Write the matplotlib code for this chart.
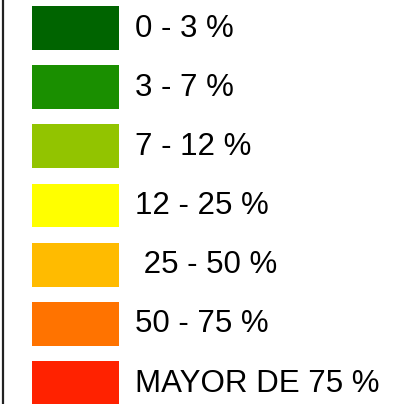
import matplotlib
matplotlib.use("Agg")
from matplotlib import pyplot as plt

labels = ["0 - 3 %", "3 - 7 %", "7 - 12 %", "12 - 25 %", " 25 - 50 %", "50 - 75 %", "MAYOR DE 75 %"]
colors = ["#006400", "#1a8f00", "#92c400", "#ffff00", "#ffbb00", "#ff7300", "#ff2200"]

W, H = 405, 404
fig = plt.figure(figsize=(W / 100, H / 100), dpi=100)
ax = fig.add_axes([0, 0, 1, 1])

step = 59.17  # px per legend row
ax.set_xlim(0, W)
ax.set_ylim(6 + (H - 383) / step, -28 / step)
ax.axis("off")

ys = list(range(len(labels)))
ax.barh(ys, [87] * len(ys), left=32, height=44 / step, color=colors)

for y, lab in zip(ys, labels):
    ax.text(135, y + 0.01, lab, fontsize=22.5, family="Liberation Sans", va="center", ha="left", color="black")

# left border of the legend box
ax.axvline(2.5, color="#222222", lw=1.6)

fig.savefig("out.png", dpi=100)
